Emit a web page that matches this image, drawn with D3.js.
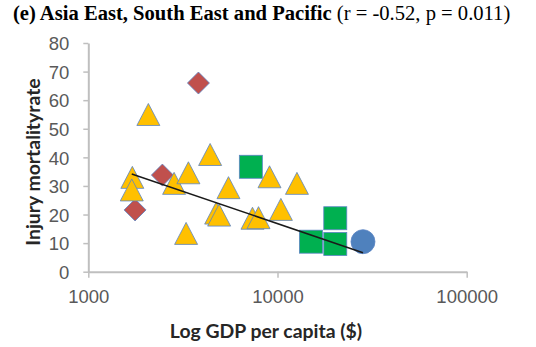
<!DOCTYPE html>
<html>
<head>
<meta charset="utf-8">
<script src="https://cdn.jsdelivr.net/npm/d3@7"></script>
<style>
  html, body { margin: 0; padding: 0; background: #fff; }
  svg { display: block; }
</style>
</head>
<body>
<svg id="chart" width="536" height="347"></svg>
<script>
// Injury mortality rate vs GDP per capita, Asia East, South East and Pacific
const xTicks = [1000, 10000, 100000];
const yTicks = [0, 10, 20, 30, 40, 50, 60, 70, 80];

// [GDP per capita ($), injury mortality rate]
const diamonds = [[3820, 66], [2464, 33.8], [1767, 21.6]];
const triangles = [
  [2077, 55], [1709, 33], [1697, 28.6], [2841, 30.9], [3381, 34.6],
  [4405, 41], [3288, 13.4], [5507, 29.4], [4740, 20.5], [4915, 19.8],
  [7375, 18.7], [7936, 18.9], [9073, 33.2], [10420, 21.8], [12670, 30.9]
];
const squares = [[7230, 36.7], [20200, 18.7], [15020, 10.5], [20200, 9.7]];
const circles = [[28300, 10.5]];

// logarithmic trend line, spanning the data range
const trendX = [1697, 28300];
const trendY = [34.2, 6.6];

const svg = d3.select("#chart");

const x = d3.scaleLog().domain([1000, 100000]).range([88.3, 466.7]);
const y = d3.scaleLinear().domain([0, 80]).range([271.7, 43]);

const axisColor = "#BFBFBF";
const labelColor = "#595959";
const tickFont = "Liberation Sans, Arial, sans-serif";
const titleFont = "Lato, Open Sans, sans-serif";

// title
const title = svg.append("text")
  .attr("x", 13).attr("y", 20)
  .attr("font-family", "Liberation Serif, Times New Roman, serif")
  .attr("font-size", 20.6)
  .attr("fill", "#000");
title.append("tspan").attr("font-weight", "bold").text("(e) Asia East, South East and Pacific ");
title.append("tspan").text("(r = -0.52, p = 0.011)");

// y axis
const yAxis = svg.append("g")
  .attr("transform", `translate(${x.range()[0]},0)`)
  .call(d3.axisLeft(y).tickValues(yTicks).tickSize(5).tickSizeOuter(0).tickPadding(14));
// x axis
const xAxis = svg.append("g")
  .attr("transform", `translate(0,${y.range()[0]})`)
  .call(d3.axisBottom(x).tickValues(xTicks).tickFormat(d3.format("d")).tickSize(6).tickSizeOuter(0).tickPadding(12));

[yAxis, xAxis].forEach(g => {
  g.select(".domain").attr("stroke", axisColor).attr("stroke-width", 2);
  g.selectAll(".tick line").attr("stroke", axisColor).attr("stroke-width", 1.5);
  g.selectAll(".tick text")
    .attr("fill", labelColor)
    .attr("font-family", tickFont)
    .attr("font-size", 18.5);
});
yAxis.selectAll(".tick text").attr("dy", "0.36em");

// axis titles
svg.append("text")
  .attr("x", 266).attr("y", 338)
  .attr("text-anchor", "middle")
  .attr("font-family", titleFont).attr("font-weight", "bold")
  .attr("font-size", 19.4).attr("fill", "#262626")
  .text("Log GDP per capita ($)");

svg.append("text")
  .attr("transform", "translate(40,162) rotate(-90)")
  .attr("text-anchor", "middle")
  .attr("font-family", titleFont).attr("font-weight", "bold")
  .attr("font-size", 19.4).attr("fill", "#262626")
  .text("Injury mortalityrate");

const markerStroke = "#5B84C4";
const plot = svg.append("g");

// diamonds
plot.selectAll(".diamond").data(diamonds).join("path")
  .attr("class", "diamond")
  .attr("d", "M0,-11L11,0L0,11L-11,0Z")
  .attr("transform", d => `translate(${x(d[0])},${y(d[1])})`)
  .attr("fill", "#C0504D").attr("stroke", markerStroke).attr("stroke-width", 0.8);

// squares
plot.selectAll(".square").data(squares).join("rect")
  .attr("class", "square")
  .attr("x", d => x(d[0]) - 11.5).attr("y", d => y(d[1]) - 11.5)
  .attr("width", 23).attr("height", 23)
  .attr("fill", "#00B050").attr("stroke", markerStroke).attr("stroke-width", 0.8);

// circles
plot.selectAll(".circle").data(circles).join("circle")
  .attr("class", "circle")
  .attr("cx", d => x(d[0])).attr("cy", d => y(d[1])).attr("r", 12)
  .attr("fill", "#4F81BD").attr("stroke", markerStroke).attr("stroke-width", 0.8);

// triangles
plot.selectAll(".triangle").data(triangles).join("path")
  .attr("class", "triangle")
  .attr("d", "M0,-11L11.5,11L-11.5,11Z")
  .attr("transform", d => `translate(${x(d[0])},${y(d[1])})`)
  .attr("fill", "#FFC000").attr("stroke", markerStroke).attr("stroke-width", 0.8);

// trend line
svg.append("path")
  .datum(trendX.map((v, i) => [v, trendY[i]]))
  .attr("d", d3.line().x(d => x(d[0])).y(d => y(d[1])))
  .attr("fill", "none").attr("stroke", "#1a1a1a").attr("stroke-width", 1.5);
</script>
</body>
</html>
